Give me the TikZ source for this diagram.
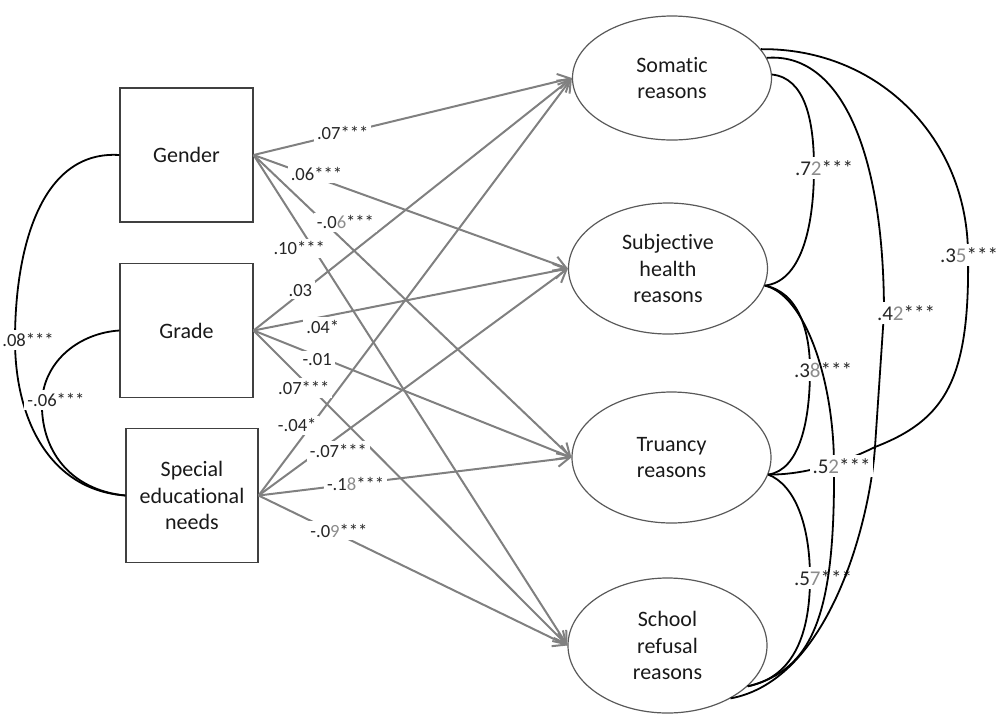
\documentclass[tikz,border=0pt]{standalone}
\usepackage{fontspec}
\setmainfont{Carlito}[Ligatures=NoCommon]
\usetikzlibrary{shapes.geometric,arrows.meta}
\newcommand{\gdig}[1]{\textcolor{black!45}{#1}}

\begin{document}
\begin{tikzpicture}[
    x=0.5pt, y=-0.5pt,
    box/.style={draw=black!75, line width=0.6pt, minimum width=66.5pt, minimum height=67pt, align=center, text=black!90, font=\fontsize{11}{13.3}\selectfont},
    latent/.style={ellipse, draw=black!65, line width=0.6pt, minimum width=99.5pt, align=center, text=black!90, font=\fontsize{11}{13.3}\selectfont},
    effect/.style={draw=black!50, line width=1pt, -{Straight Barb[length=6pt,width=7.5pt]}},
    cov/.style={line width=0.9pt},
    coef/.style={fill=white, inner sep=1.5pt, text=black!85, font=\fontsize{9.3}{10}\selectfont},
    bigcoef/.style={coef, font=\fontsize{10.5}{12}\selectfont}
]
\useasboundingbox (0,0) rectangle (1003,714);

\node[box] (gen) at (186.5,155) {Gender};
\node[box] (grd) at (186.5,330.5) {Grade};
\node[box, minimum width=66pt] (sen) at (192,495.5) {Special\\educational\\needs};

\node[latent, minimum height=62pt] (som) at (672,78) {Somatic\\reasons};
\node[latent, minimum height=65.5pt] (sub) at (668,268.5) {Subjective\\health\\reasons};
\node[latent, minimum height=65.5pt] (tru) at (671.5,457.5) {Truancy\\reasons};
\node[latent, minimum height=67.5pt] (sch) at (667.5,645.5) {School\\refusal\\reasons};

\draw[effect] (gen.east) -- (som.west);
\draw[effect] (gen.east) -- (sub.west);
\draw[effect] (gen.east) -- (tru.west);
\draw[effect] (gen.east) -- (sch.west);
\draw[effect] (grd.east) -- (som.west);
\draw[effect] (grd.east) -- (sub.west);
\draw[effect] (grd.east) -- (tru.west);
\draw[effect] (grd.east) -- (sch.west);
\draw[effect] (sen.east) -- (som.west);
\draw[effect] (sen.east) -- (sub.west);
\draw[effect] (sen.east) -- (tru.west);
\draw[effect] (sen.east) -- (sch.west);

\path (gen.east) -- node[coef, pos=0.28] {.07***} (som.west);
\path (gen.east) -- node[coef, pos=0.2, yshift=2pt] {.06***} (sub.west);
\path (gen.east) -- node[coef, pos=0.223, xshift=10.5pt] {-.0\gdig{6}***} (tru.west);
\path (gen.east) -- node[coef, pos=0.19, xshift=-7pt] {.10***} (sch.west);
\path (grd.east) -- node[coef, pos=0.147, yshift=1.5pt] {.03} (som.west);
\path (grd.east) -- node[coef, pos=0.22, yshift=-5pt] {.04*} (sub.west);
\path (grd.east) -- node[coef, pos=0.2, yshift=-2pt] {-.01} (tru.west);
\path (grd.east) -- node[coef, pos=0.16, yshift=-3.5pt] {.07***} (sch.west);
\path (sen.east) -- node[coef, pos=0.168, xshift=-7pt] {-.04*} (som.west);
\path (sen.east) -- node[coef, pos=0.258, yshift=-7pt] {-.07***} (sub.west);
\path (sen.east) -- node[coef, pos=0.31] {-.1\gdig{8}***} (tru.west);
\path (sen.east) -- node[coef, pos=0.26, yshift=2pt] {-.0\gdig{9}***} (sch.west);

\draw[cov] (gen.west) .. controls (40,150) and (15,250) .. (15,340) node[coef, xshift=6.5pt] {.08***} .. controls (15,420) and (50,490) .. (sen.west);
\draw[cov] (grd.west) .. controls (80,333) and (45,360) .. (42,400) node[coef, xshift=7pt] {-.06***} .. controls (40,450) and (70,490) .. (sen.west);

\draw[cov] (som.2) .. controls (805,78) and (814,120) .. (814,168) node[bigcoef, xshift=5pt] {.7\gdig{2}***} .. controls (814,230) and (800,282) .. (sub.-10);
\draw[cov] (som.12) .. controls (840,52) and (884,150) .. (884,313) node[bigcoef, xshift=11pt] {.4\gdig{2}***} -- (875,447) .. controls (845,462) and (805,475) .. (tru.-10);
\draw[cov] (sub.-10) .. controls (798,292) and (810,330) .. (810,370) node[bigcoef, xshift=6.5pt] {.3\gdig{8}***} .. controls (810,420) and (800,470) .. (tru.-10);
\draw[cov] (tru.-10) .. controls (795,485) and (810,525) .. (810,578) node[bigcoef, xshift=6.5pt] {.5\gdig{7}***} .. controls (810,640) and (790,678) .. (sch.-27);
\draw[cov] (som.18) .. controls (880,48) and (968,140) .. (968,255) node[bigcoef, xshift=0.5pt] {.3\gdig{5}***} .. controls (970,380) and (945,420) .. (875,447) .. controls (870,520) and (830,680) .. (sch.-40);
\draw[cov] (sub.-10) .. controls (805,295) and (834,380) .. (834,466) node[bigcoef, xshift=3.75pt] {.5\gdig{2}***} .. controls (835,610) and (815,670) .. (sch.-27);

\end{tikzpicture}
\end{document}
